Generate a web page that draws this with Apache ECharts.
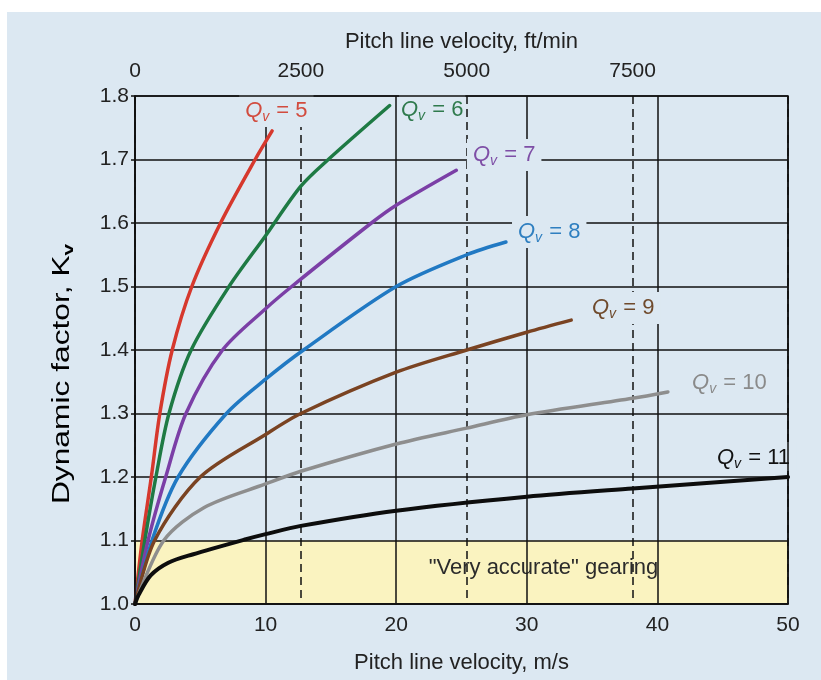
<!DOCTYPE html>
<html><head><meta charset="utf-8">
<script src="https://cdn.jsdelivr.net/npm/echarts@6/dist/echarts.min.js"></script>
<style>
html,body{margin:0;padding:0;background:#fff;width:821px;height:680px;overflow:hidden;}
#bg{position:absolute;left:7px;top:12px;right:0;bottom:0;background:#dce8f2;}
#chart{position:absolute;left:0;top:0;width:821px;height:680px;}
</style></head><body>
<div id="bg"></div><div id="chart"></div>
<script>
// ---- data ----
const qvLevels = [5, 6, 7, 8, 9, 10, 11];
const qv5  = [[0,1.0],[0.55,1.1],[1.25,1.2],[1.9,1.3],[2.85,1.4],[4.35,1.5],[6.55,1.6],[9.2,1.7],[10.5,1.745]];
const qv6  = [[0,1.0],[0.75,1.1],[1.6,1.2],[2.6,1.3],[4.3,1.4],[7.2,1.5],[10,1.58],[12.7,1.658],[14.8,1.7],[19.5,1.785]];
const qv7  = [[0,1.0],[1.0,1.1],[2.35,1.2],[3.9,1.3],[6.7,1.4],[10,1.465],[12.0,1.5],[18.1,1.6],[20,1.628],[24.6,1.683]];
const qv8  = [[0,1.0],[1.3,1.1],[3.3,1.2],[7.0,1.3],[10,1.354],[12.9,1.4],[20,1.5],[25.4,1.55],[28.4,1.57]];
const qv9  = [[0,1.0],[1.5,1.1],[5.0,1.2],[10,1.267],[12.7,1.3],[20,1.365],[25.4,1.4],[30,1.428],[33.4,1.447]];
const qv10 = [[0,1.0],[2.2,1.1],[5.3,1.152],[10,1.189],[12.7,1.209],[20,1.252],[25.4,1.277],[30,1.298],[38.1,1.324],[40.8,1.334]];
const qv11 = [[0,1.0],[0.27,1.014],[1.2,1.045],[2.55,1.065],[4.4,1.078],[8.5,1.102],[10,1.11],[12.7,1.123],[20,1.147],[30,1.169],[38.1,1.182],[50,1.2]];
const curves = [qv5, qv6, qv7, qv8, qv9, qv10, qv11];
const msRange = [0, 50];
const msInterval = 10;
const kvRange = [1.0, 1.8];
const kvInterval = 0.1;
const ftPerMs = 196.850394;
const ftInterval = 2500;
const accurateBand = [1.0, 1.1];
const bandText = '"Very accurate" gearing';

// ---- styles ----
const F = "'Liberation Sans', Arial, sans-serif";
const BG = '#dce8f2';
const lineColors  = ['#d6382d','#1e7a44','#7b3fa6','#2179c3','#7a4322','#8e8e8e','#0d0d0d'];
const labelColors = ['#d24b3e','#2f7a4d','#7e4ea6','#2f7fc0','#6f4a2c','#8a8a8a','#111111'];
const labelOffsets = [[-33,-20],[9.3,4.5],[10.7,-15.3],[6.1,-10],[14.8,-12.2],[18.2,-8.9],[-77,-20.5]];
const labelPads = [[4,6,4,6],[4,2,4,2],[4,6,4,6],[4,6,4,6],[4,6,4,6],[4,6,4,6],[4,6,1,6]];

function qvRich(c) {
  return {
    q: {fontFamily: F, fontSize: 22, fontStyle: 'italic', color: c, lineHeight: 24},
    s: {fontFamily: F, fontSize: 14, fontStyle: 'italic', color: c, lineHeight: 14, padding: [12, 1, 0, 0]},
    n: {fontFamily: F, fontSize: 22, color: c, lineHeight: 24}
  };
}

const series = curves.map((d, i) => {
  const s = {
    type: 'line',
    name: 'Qv = ' + qvLevels[i],
    data: d,
    smooth: 0.3,
    symbol: 'none',
    showSymbol: false,
    lineStyle: {color: lineColors[i], width: i === 6 ? 4 : 3.5, cap: 'round', join: 'round'},
    z: 2,
    silent: true,
    animation: false,
    markPoint: {
      z: 5,
      symbol: 'circle',
      symbolSize: 0.01,
      silent: true,
      animation: false,
      itemStyle: {color: 'transparent'},
      data: [{coord: d[d.length - 1]}],
      label: {
        show: true,
        position: 'right',
        distance: 0,
        align: 'left',
        verticalAlign: 'middle',
        offset: labelOffsets[i],
        backgroundColor: BG,
        padding: labelPads[i],
        formatter: '{q|Q}{s|v}{n| = ' + qvLevels[i] + '}',
        rich: qvRich(labelColors[i])
      }
    }
  };
  if (i === 6) {
    s.markArea = {
      z: 0,
      silent: true,
      animation: false,
      itemStyle: {color: '#faf3c0'},
      label: {
        show: true,
        position: 'inside',
        offset: [82, -4],
        fontFamily: F,
        fontSize: 22,
        color: '#2b2b2b',
        formatter: bandText
      },
      data: [[{xAxis: msRange[0], yAxis: accurateBand[0]}, {xAxis: msRange[1], yAxis: accurateBand[1]}]]
    };
  }
  return s;
});

const chart = echarts.init(document.getElementById('chart'), null, {renderer: 'canvas'});
chart.setOption({
  backgroundColor: 'transparent',
  animation: false,
  grid: {left: 135, right: 33, top: 96, bottom: 76, show: true, borderColor: '#111', borderWidth: 1.5,
         backgroundColor: 'transparent', z: 10, containLabel: false, outerBoundsMode: 'none'},
  xAxis: [
    {
      type: 'value', position: 'bottom', min: msRange[0], max: msRange[1], interval: msInterval, z: 1,
      name: 'Pitch line velocity, m/s', nameLocation: 'middle', nameGap: 48,
      nameTextStyle: {fontFamily: F, fontSize: 22, color: '#222'},
      axisLine: {show: true, lineStyle: {color: '#111', width: 1.5}},
      axisTick: {show: false},
      axisLabel: {fontFamily: F, fontSize: 21, color: '#222', margin: 11},
      splitLine: {show: true, lineStyle: {color: '#111', width: 1.5}}
    },
    {
      type: 'value', position: 'top', min: msRange[0] * ftPerMs, max: msRange[1] * ftPerMs, interval: ftInterval, z: 1,
      name: 'Pitch line velocity, ft/min', nameLocation: 'middle', nameGap: 43,
      nameTextStyle: {fontFamily: F, fontSize: 22, color: '#222'},
      axisLine: {show: false},
      axisTick: {show: false},
      axisLabel: {fontFamily: F, fontSize: 21, color: '#222', margin: 14, showMaxLabel: false,
                  formatter: v => String(Math.round(v))},
      splitLine: {show: true, lineStyle: {color: '#111', width: 1.5, type: [8, 5]}}
    }
  ],
  yAxis: {
    type: 'value', min: kvRange[0], max: kvRange[1], interval: kvInterval, z: 1,
    axisLine: {show: true, lineStyle: {color: '#111', width: 1.5}},
    axisTick: {show: true, length: 4, lineStyle: {color: '#111', width: 1.5}},
    axisLabel: {fontFamily: F, fontSize: 21, color: '#222', margin: 6, formatter: v => v.toFixed(1)},
    splitLine: {show: true, lineStyle: {color: '#111', width: 1.5}}
  },
  graphic: [{
    type: 'text', x: 63, y: 374, rotation: Math.PI / 2, scaleX: 1.38, z: 20, silent: true,
    style: {
      text: '{m|Dynamic factor, K}{s|v}',
      align: 'center', verticalAlign: 'middle',
      rich: {
        m: {fontFamily: F, fontSize: 23, color: '#222', lineHeight: 26},
        s: {fontFamily: F, fontSize: 15, fontWeight: 'bold', color: '#222', lineHeight: 15, padding: [12, 0, 0, 0]}
      }
    }
  }],
  series: series
});
</script>
</body></html>
